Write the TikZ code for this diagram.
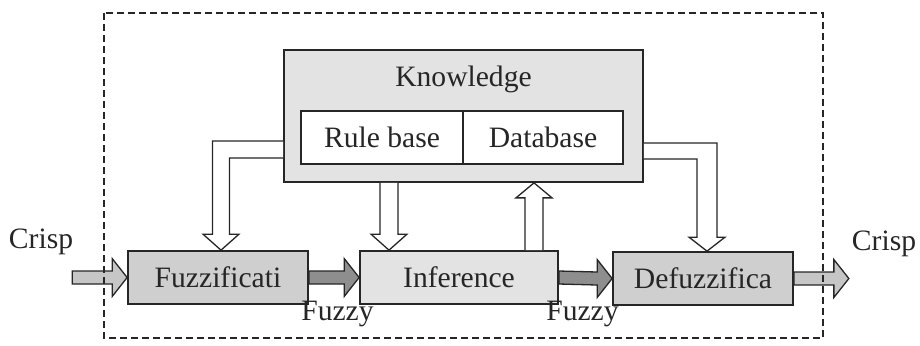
\documentclass[tikz,border=0pt]{standalone}
\usepackage{fontspec}
\setmainfont{Liberation Serif}
\usetikzlibrary{calc,positioning}
\definecolor{fzink}{HTML}{262626}
\definecolor{fzbox}{HTML}{CFCFCF}
\definecolor{fzpale}{HTML}{E3E3E3}
\definecolor{fzdark}{HTML}{8E8E8E}
\definecolor{fzlight}{HTML}{C6C6C6}

% straight block arrows: start, tip, style
\newcommand{\hblock}[3]{%
  \draw[#3] ($(#1)+(0,-6.5)$) -- ($(#2)+(-15,-6.5)$) -- ($(#2)+(-15,-19)$) -- (#2)
    -- ($(#2)+(-15,19)$) -- ($(#2)+(-15,6.5)$) -- ($(#1)+(0,6.5)$) -- cycle;}
% start, tip, signed head length, style
\newcommand{\vblock}[4]{%
  \draw[#4] ($(#1)+(-9,0)$) -- ($(#2)+(-9,#3)$) -- ($(#2)+(-18,#3)$) -- (#2)
    -- ($(#2)+(18,#3)$) -- ($(#2)+(9,#3)$) -- ($(#1)+(9,0)$);}

\tikzset{
  txt/.style={text=fzink, font=\fontsize{14.8}{17}\selectfont, inner sep=0pt},
  stage/.style={txt, draw=fzink, line width=0.85pt, minimum width=90pt, minimum height=26.5pt},
  cell/.style={txt, draw=fzink, line width=0.85pt, fill=white, minimum height=26.5pt},
  hollow/.style={draw=fzink, line width=0.65pt, fill=white, line join=miter},
}

\begin{document}
\begin{tikzpicture}[x=0.5pt, y=-0.5pt]
  \useasboundingbox (0,0) rectangle (920,345);

  % knowledge base
  \node[stage, fill=fzpale, minimum width=179.5pt, minimum height=66pt] (know) at (463.5,116) {};
  \node[txt, anchor=base] (ktitle) at (463.5,86) {Knowledge};
  \node[cell, minimum width=81pt] (rules) at (382,137.5) {Rule base};
  \node[cell, minimum width=80pt] (data) at (543,137.5) {Database};

  % processing chain
  \node[stage, fill=fzbox] (fuzz) at (218,277.5) {Fuzzificati};
  \node[stage, fill=fzpale, minimum width=99pt] (inf) at (459,277.5) {Inference};
  \node[stage, fill=fzbox] (defuzz) at (703,278.5) {Defuzzifica};

  \node[txt, anchor=base] (crispin) at (41,248) {Crisp};
  \node[txt, anchor=base] (crispout) at (884,250) {Crisp};
  \node[txt, anchor=base] (fuzzy1) at (337.5,320) {Fuzzy};
  \node[txt, anchor=base] (fuzzy2) at (582.5,320) {Fuzzy};

  \coordinate (cin) at ($(fuzz.west)+(-55,0)$);
  \coordinate (cout) at ($(defuzz.east)+(55,0)$);

  \hblock{cin}{fuzz.west}{hollow, fill=fzlight}
  \hblock{fuzz.east}{inf.west}{hollow, fill=fzdark}
  \hblock{inf.east}{defuzz.west}{hollow, fill=fzdark}
  \hblock{defuzz.east}{cout}{hollow, fill=fzlight}

  % knowledge <-> inference
  \coordinate (down) at ($(inf.north)+(-70,0)$);
  \coordinate (up) at ($(inf.north)+(75,0)$);
  \vblock{down |- know.south}{down}{-16}{hollow}
  \vblock{up}{up |- know.south}{15}{hollow}

  % knowledge -> fuzzification / defuzzification
  \coordinate (lk) at ($(know.west)+(0,33.5)$);
  \coordinate (ltip) at ($(fuzz.north)+(3,0)$);
  \draw[hollow] ($(lk)+(0,-8.5)$) -| ($(ltip)+(-8.5,-16)$) -- ($(ltip)+(-18,-16)$) -- (ltip)
    -- ($(ltip)+(18,-16)$) -- ($(ltip)+(8.5,-16)$) |- ($(lk)+(0,8.5)$);
  \coordinate (rk) at ($(know.east)+(0,35)$);
  \coordinate (rtip) at ($(defuzz.north)+(4,0)$);
  \draw[hollow] ($(rk)+(0,-8)$) -| ($(rtip)+(10,-14)$) -- ($(rtip)+(18,-14)$) -- (rtip)
    -- ($(rtip)+(-18,-14)$) -- ($(rtip)+(-10,-14)$) |- ($(rk)+(0,8)$);

  % controller boundary
  \draw[fzink, line width=1.35pt, dash pattern=on 3.5pt off 2pt] (104,13) rectangle (823,338);
\end{tikzpicture}
\end{document}
